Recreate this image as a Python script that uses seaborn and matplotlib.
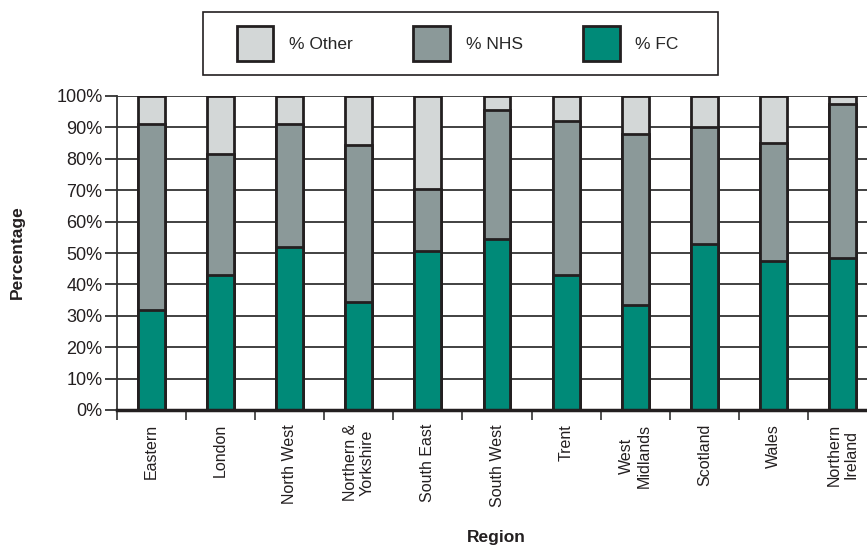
import pandas as pd
import matplotlib.pyplot as plt
import seaborn as sns
from matplotlib.patches import Patch, Rectangle
from matplotlib.ticker import FixedLocator, PercentFormatter

# data (percent of each region)
regions = ["Eastern", "London", "North West", "Northern &\nYorkshire", "South East",
           "South West", "Trent", "West\nMidlands", "Scotland", "Wales", "Northern\nIreland"]
pct_fc = [32, 43, 52, 34.5, 50.5, 54.5, 43, 33.5, 53, 47.5, 48.5]
pct_nhs = [59, 38.5, 39, 50, 20, 41, 49, 54.5, 37, 37.5, 49]
pct_other = [9, 18.5, 9, 15.5, 29.5, 4.5, 8, 12, 10, 15, 2.5]

df = pd.DataFrame({"region": regions, "fc": pct_fc, "nhs": pct_nhs, "other": pct_other})
df["top_nhs"] = df["fc"] + df["nhs"]
df["top_other"] = df["top_nhs"] + df["other"]

col_other = "#d3d7d7"
col_nhs = "#8b9999"
col_fc = "#008a78"
edge = "#231f20"

sns.set_style("white")
plt.rcParams["font.family"] = ["Liberation Sans", "DejaVu Sans"]

fig = plt.figure(figsize=(8.67, 5.49), dpi=100)
# the plot runs off the right edge of the picture, like the original
ax = fig.add_axes([117 / 867, 1 - 410 / 549, 760 / 867, 314 / 549])

bw = 0.39
sns.barplot(data=df, x="region", y="top_other", color=col_other, width=bw,
            edgecolor=edge, linewidth=2, saturation=1, ax=ax, zorder=3)
sns.barplot(data=df, x="region", y="top_nhs", color=col_nhs, width=bw,
            edgecolor=edge, linewidth=2, saturation=1, ax=ax, zorder=3)
sns.barplot(data=df, x="region", y="fc", color=col_fc, width=bw,
            edgecolor=edge, linewidth=2, saturation=1, ax=ax, zorder=3)

ax.set_xlim(-0.5, len(regions) - 0.5)
ax.set_ylim(0, 100)
ax.set_yticks(range(0, 101, 10))
ax.yaxis.set_major_formatter(PercentFormatter(decimals=0))
ax.grid(axis="y", color="#333333", linewidth=1.3, zorder=0)
ax.set_axisbelow(True)

# category ticks sit between bars
ax.xaxis.set_minor_locator(FixedLocator([i - 0.5 for i in range(len(regions) + 1)]))
ax.tick_params(axis="x", which="major", length=0, pad=10)
ax.tick_params(axis="x", which="minor", length=7, width=1.2, color="#333333", direction="out", bottom=True)
ax.tick_params(axis="y", length=8.5, width=1.3, color="#333333", direction="out", left=True, pad=2)
ax.set_xticks(range(len(regions)))
ax.set_xticklabels(regions, rotation=90, fontsize=11.5, va="top", ha="center",
                   multialignment="center", color="#231f20")
for lab in ax.get_yticklabels():
    lab.set_fontsize(13)
    lab.set_color("#231f20")

for s in ["top", "right"]:
    ax.spines[s].set_visible(False)
ax.spines["left"].set_color("#333333")
ax.spines["left"].set_linewidth(1.3)
ax.spines["bottom"].set_color("#231f20")
ax.spines["bottom"].set_linewidth(2.5)
ax.spines["bottom"].set_zorder(5)

fig.text(0.02, 0.54, "Percentage", rotation=90, ha="center", va="center",
         fontsize=12.5, fontweight="bold", color="#231f20")
fig.text(0.573, 0.021, "Region", ha="center", va="center",
         fontsize=12.5, fontweight="bold", color="#231f20")
ax.set_xlabel("")
ax.set_ylabel("")

# legend box
fig.patches.append(Rectangle((203 / 867, 1 - 75 / 549), 515 / 867, 63 / 549,
                             transform=fig.transFigure, fill=False,
                             edgecolor="#231f20", linewidth=1.2))
handles = [Patch(facecolor=col_other, edgecolor=edge, linewidth=2, label="% Other"),
           Patch(facecolor=col_nhs, edgecolor=edge, linewidth=2, label="% NHS"),
           Patch(facecolor=col_fc, edgecolor=edge, linewidth=2, label="% FC")]
leg = fig.legend(handles=handles, ncol=3, loc="center", bbox_to_anchor=(0.528, 1 - 43.5 / 549),
                 frameon=False, fontsize=12.5, handlelength=2.1, handleheight=2.75,
                 columnspacing=3.5, handletextpad=0.9, borderpad=0, borderaxespad=0)

plt.savefig("out.png", dpi=100)
